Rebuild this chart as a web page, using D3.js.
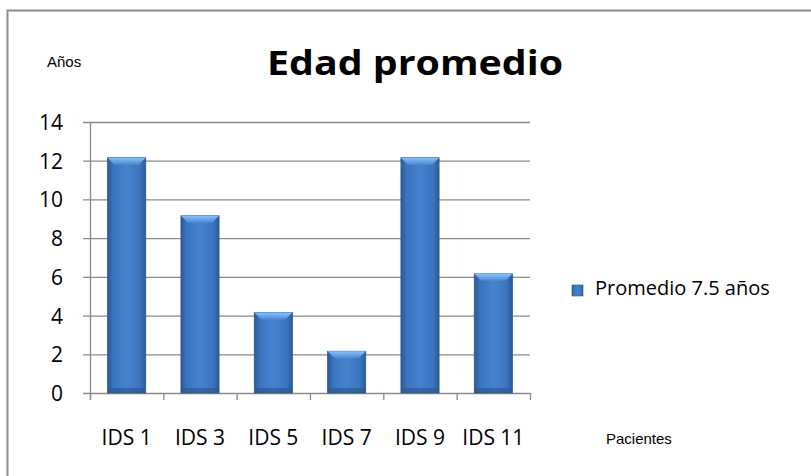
<!DOCTYPE html>
<html>
<head>
<meta charset="utf-8">
<script src="https://cdn.jsdelivr.net/npm/d3@7"></script>
<style>
  body { margin: 0; background: #fff; }
  text { font-family: "Open Sans", "Noto Sans", sans-serif; fill: #000; }
</style>
</head>
<body>
<script>
// Edad promedio bar chart

var categories = ["IDS 1", "IDS 3", "IDS 5", "IDS 7", "IDS 9", "IDS 11"];
var values = [12, 9, 4, 2, 12, 6];
var yTicks = [0, 2, 4, 6, 8, 10, 12, 14];
var seriesName = "Promedio 7.5 años";

var svgWidth = 811, svgHeight = 476;
var margin = { top: 122, left: 90 };
var width = 440, height = 271;

var svg = d3.select("body").append("svg")
  .attr("width", svgWidth)
  .attr("height", svgHeight);

// outer frame
svg.append("rect")
  .attr("x", 7.5).attr("y", 10.5)
  .attr("width", 820).attr("height", 480)
  .attr("fill", "none")
  .attr("stroke", "#8c8c8c")
  .attr("stroke-width", 2);

var defs = svg.append("defs");
var grad = defs.append("linearGradient").attr("id", "barGrad")
  .attr("x1", "0%").attr("x2", "100%").attr("y1", "0%").attr("y2", "0%");
grad.append("stop").attr("offset", "0%").attr("stop-color", "#2a5a98");
grad.append("stop").attr("offset", "15%").attr("stop-color", "#3b74bd");
grad.append("stop").attr("offset", "50%").attr("stop-color", "#4582cf");
grad.append("stop").attr("offset", "85%").attr("stop-color", "#3b74bd");
grad.append("stop").attr("offset", "100%").attr("stop-color", "#2a5a98");

var topGrad = defs.append("linearGradient").attr("id", "topGrad")
  .attr("x1", "0%").attr("x2", "0%").attr("y1", "0%").attr("y2", "100%");
topGrad.append("stop").attr("offset", "0%").attr("stop-color", "#8cc0f2");
topGrad.append("stop").attr("offset", "100%").attr("stop-color", "#4a88d4");

var chartGroup = svg.append("g")
  .attr("transform", `translate(${margin.left}, ${margin.top})`);

var xScale = d3.scaleBand()
  .domain(categories)
  .range([0, width])
  .paddingInner(0.48)
  .paddingOuter(0.24);

var yScale = d3.scaleLinear()
  .domain([0, 14])
  .range([height, 0]);

// gridlines
chartGroup.selectAll(".grid")
  .data(yTicks)
  .enter()
  .append("line")
  .attr("x1", -7)
  .attr("x2", width)
  .attr("y1", d => yScale(d) + 0.5)
  .attr("y2", d => yScale(d) + 0.5)
  .attr("stroke", "#8a8a8a")
  .attr("stroke-width", 1.3);

// y axis line
chartGroup.append("line")
  .attr("x1", 0.5).attr("x2", 0.5)
  .attr("y1", 0).attr("y2", height + 7)
  .attr("stroke", "#8a8a8a")
  .attr("stroke-width", 1.3);

// x category boundary ticks
var step = xScale.step();
chartGroup.selectAll(".xtick")
  .data(d3.range(categories.length + 1))
  .enter()
  .append("line")
  .attr("x1", i => i * step + 0.5)
  .attr("x2", i => i * step + 0.5)
  .attr("y1", height)
  .attr("y2", height + 7)
  .attr("stroke", "#8a8a8a")
  .attr("stroke-width", 1.3);

// y tick labels
chartGroup.selectAll(".ylabel")
  .data(yTicks)
  .enter()
  .append("text")
  .attr("x", -27)
  .attr("y", d => yScale(d) + 8)
  .attr("text-anchor", "end")
  .style("font-size", "21px")
  .text(d => d);

// x tick labels
chartGroup.selectAll(".xlabel")
  .data(categories)
  .enter()
  .append("text")
  .attr("x", d => xScale(d) + xScale.bandwidth() / 2)
  .attr("y", height + 52)
  .attr("text-anchor", "middle")
  .style("font-size", "21px")
  .text(d => d);

// bars
var bars = chartGroup.selectAll(".bar")
  .data(values)
  .enter()
  .append("g");

bars.append("rect")
  .attr("x", (d, i) => xScale(categories[i]))
  .attr("y", d => yScale(d) - 3)
  .attr("width", xScale.bandwidth())
  .attr("height", d => height - yScale(d) + 3)
  .attr("fill", "url(#barGrad)")
  .attr("stroke", "#2b5a94")
  .attr("stroke-width", 0.8);

bars.append("path")
  .attr("d", (d, i) => {
    var x0 = xScale(categories[i]), bw = xScale.bandwidth(), y0 = yScale(d) - 3;
    return `M${x0},${y0} L${x0 + bw},${y0} L${x0 + bw - 7},${y0 + 7} L${x0 + 7},${y0 + 7} Z`;
  })
  .attr("fill", "url(#topGrad)");

// bottom shading on bars
bars.append("rect")
  .attr("x", (d, i) => xScale(categories[i]) + 1)
  .attr("y", height - 5)
  .attr("width", xScale.bandwidth() - 2)
  .attr("height", 5)
  .attr("fill", "#2a5590")
  .attr("opacity", 0.6);

// title
svg.append("text")
  .attr("x", 415)
  .attr("y", 75)
  .attr("text-anchor", "middle")
  .attr("textLength", 296)
  .attr("lengthAdjust", "spacingAndGlyphs")
  .style("font-size", "34px")
  .style("font-weight", "bold")
  .text("Edad promedio");

// axis names
svg.append("text")
  .attr("x", 47)
  .attr("y", 67)
  .style("font-family", "'Liberation Sans Narrow', 'Liberation Sans', sans-serif")
  .style("font-size", "15px")
  .text("Años");

svg.append("text")
  .attr("x", 606)
  .attr("y", 444)
  .style("font-family", "'Liberation Sans Narrow', 'Liberation Sans', sans-serif")
  .style("font-size", "15px")
  .text("Pacientes");

// legend
svg.append("rect")
  .attr("x", 572).attr("y", 285)
  .attr("width", 11).attr("height", 11)
  .attr("fill", "url(#barGrad)")
  .attr("stroke", "#2b5a94")
  .attr("stroke-width", 0.6);

svg.append("text")
  .attr("x", 595)
  .attr("y", 295)
  .style("font-size", "20px")
  .text(seriesName);
</script>
</body>
</html>
